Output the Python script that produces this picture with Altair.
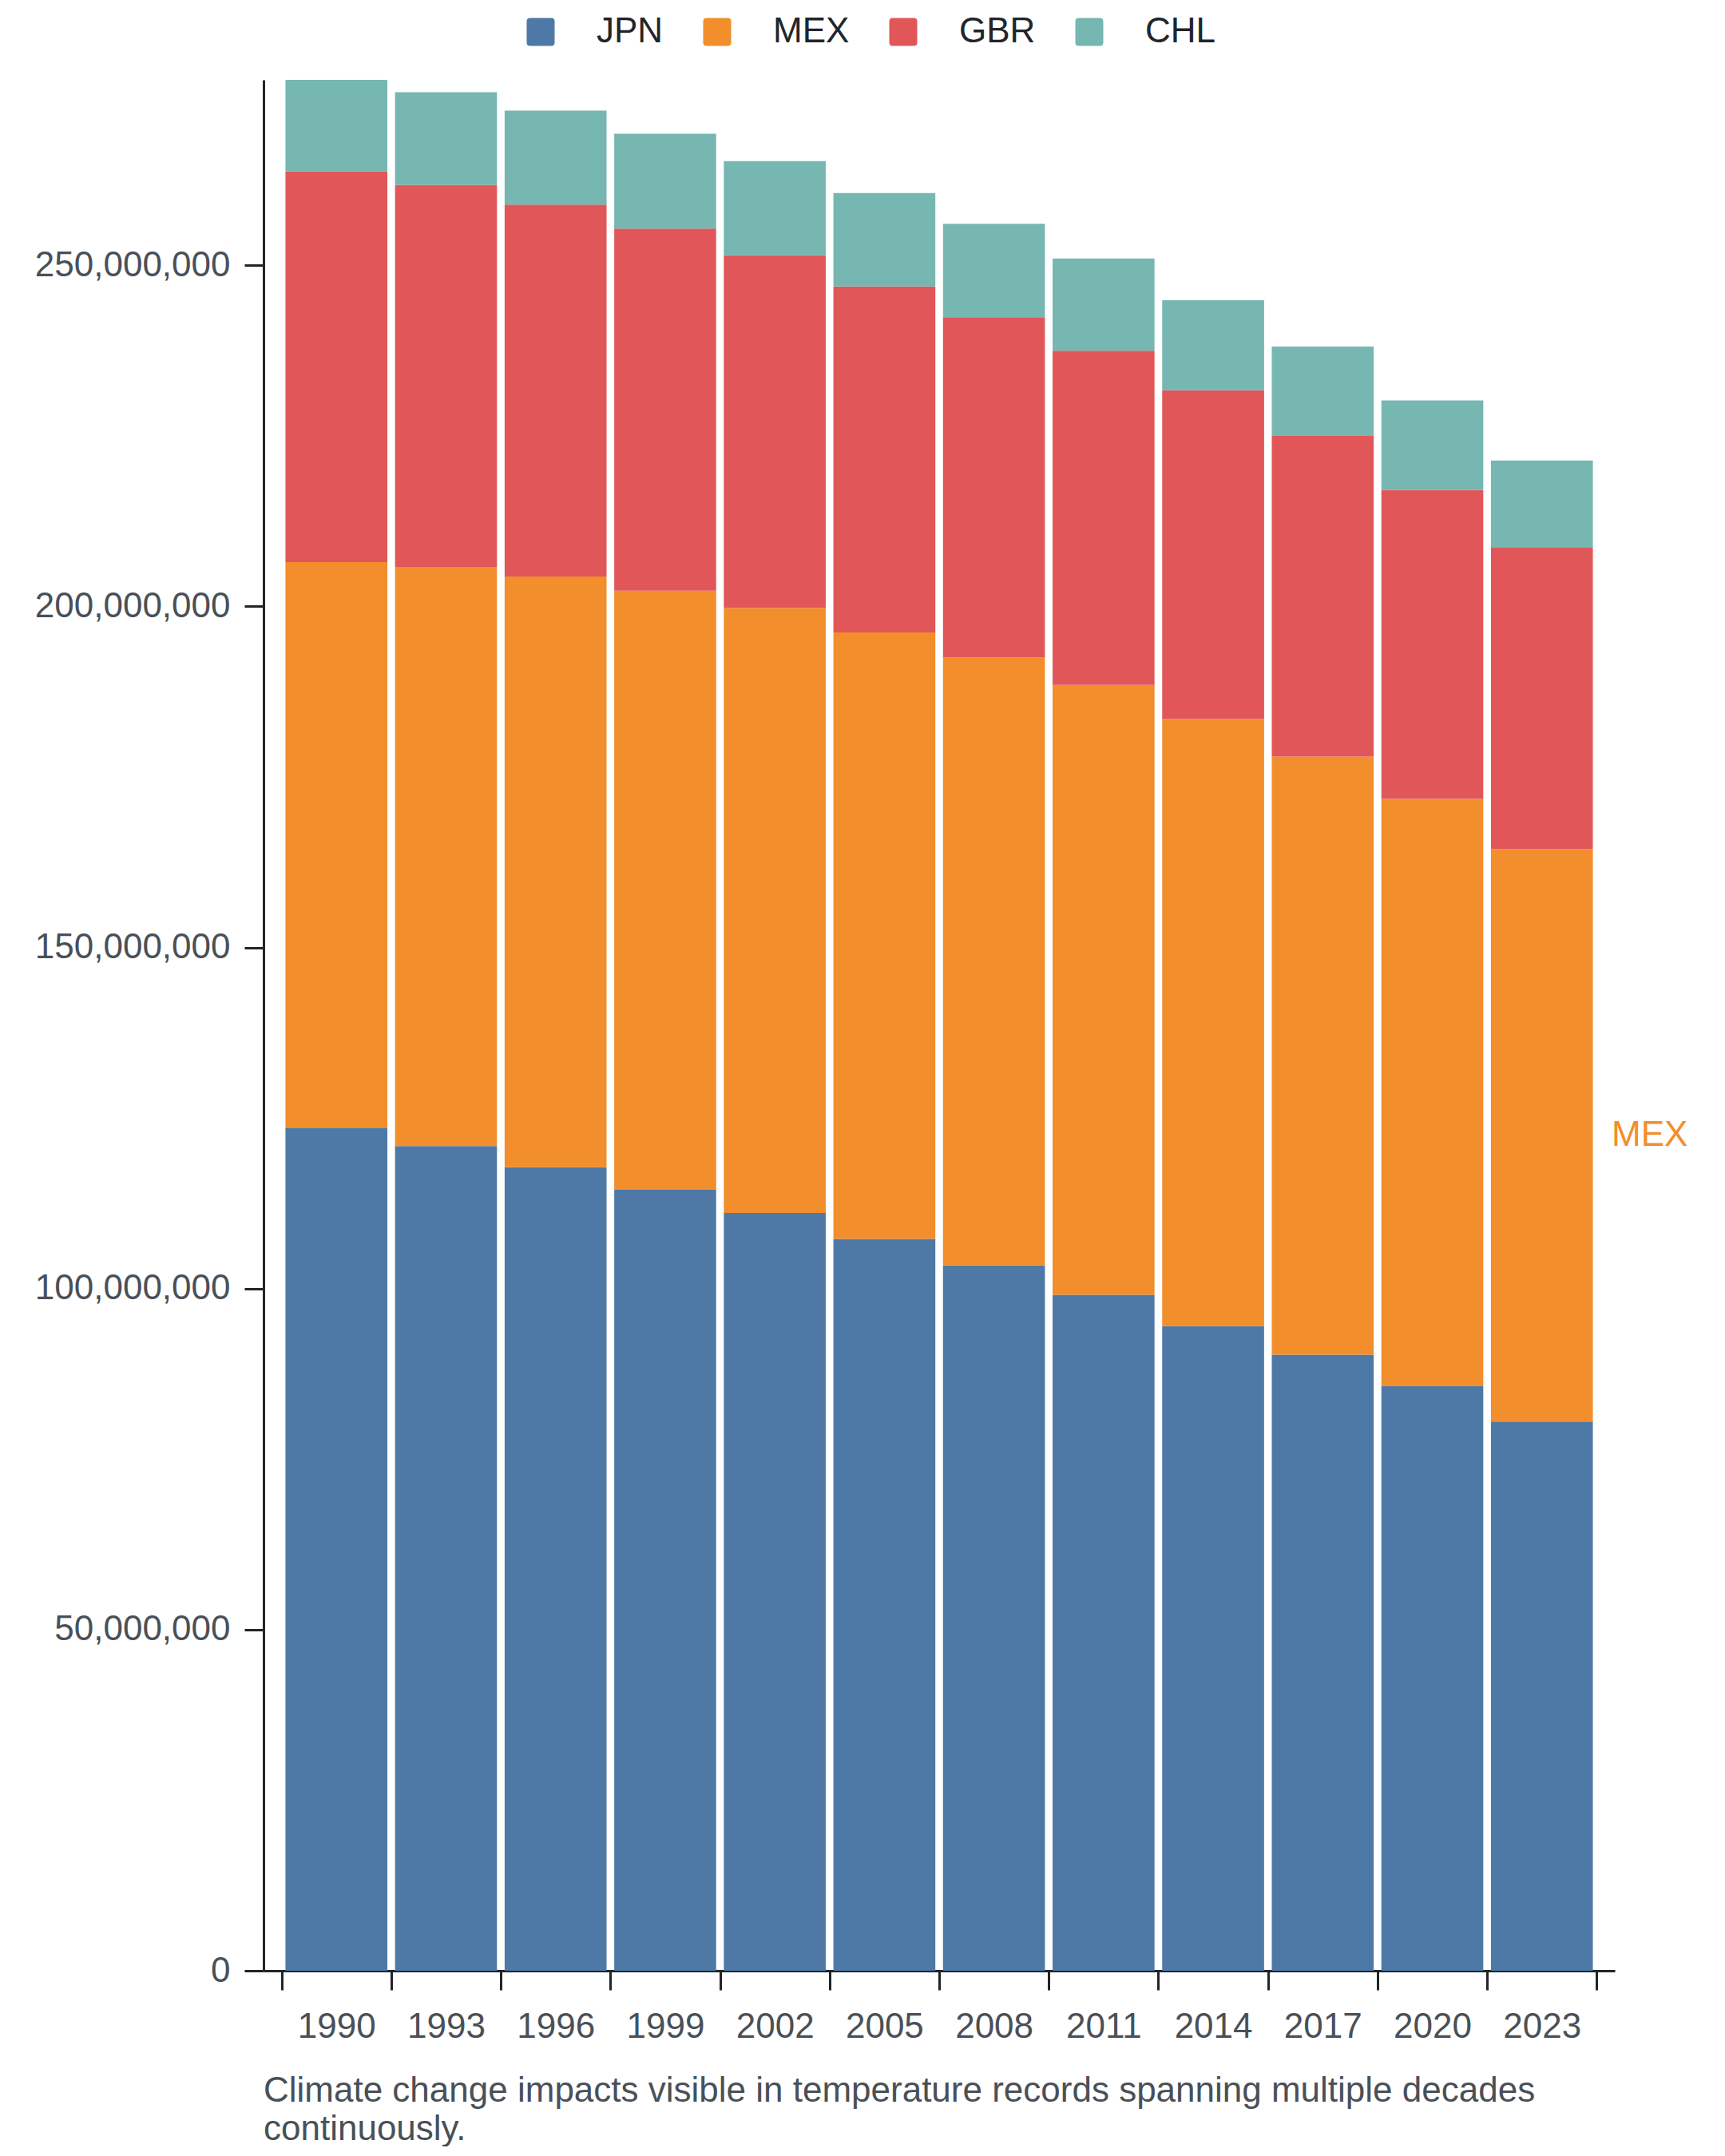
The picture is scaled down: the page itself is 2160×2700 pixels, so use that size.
import altair as alt
import pandas as pd

years = ["1990", "1993", "1996", "1999", "2002", "2005", "2008", "2011", "2014", "2017", "2020", "2023"]
countries = ["JPN", "MEX", "GBR", "CHL"]
colors = ["#4e79a7", "#f28e2b", "#e15759", "#76b7b2"]

jpn = [123.6e6, 120.9e6, 117.8e6, 114.5e6, 111.1e6, 107.3e6, 103.4e6, 99.1e6, 94.5e6, 90.3e6, 85.7e6, 80.5e6]
mex = [82.9e6, 84.9e6, 86.6e6, 87.8e6, 88.7e6, 88.9e6, 89.1e6, 89.4e6, 89.0e6, 87.7e6, 86.1e6, 83.9e6]
gbr = [57.3e6, 56.0e6, 54.5e6, 53.1e6, 51.7e6, 50.7e6, 49.9e6, 49.0e6, 48.2e6, 47.0e6, 45.3e6, 44.3e6]
chl = [13.4e6, 13.6e6, 13.8e6, 13.9e6, 13.8e6, 13.7e6, 13.7e6, 13.5e6, 13.2e6, 13.1e6, 13.1e6, 12.7e6]

y_ticks = [0, 50e6, 100e6, 150e6, 200e6, 250e6]
caption = ["Climate change impacts visible in temperature records spanning multiple decades",
           "continuously."]

series = {"JPN": jpn, "MEX": mex, "GBR": gbr, "CHL": chl}
rows = []
for k, c in enumerate(countries):
    for yr, v in zip(years, series[c]):
        rows.append({"year": yr, "country": c, "value": v, "k": k})
df = pd.DataFrame(rows)

label_df = pd.DataFrame([{"value": jpn[-1] + mex[-1] / 2, "label": "MEX"}])

W, H = 1692, 2368
FONT = "Liberation Sans"
DARK = "#212529"
GREY = "#495057"

rounded = "M-1,-0.75 Q-1,-1 -0.75,-1 L0.75,-1 Q1,-1 1,-0.75 L1,0.75 Q1,1 0.75,1 L-0.75,1 Q-1,1 -1,0.75 Z"

bars = alt.Chart(df).mark_bar(strokeWidth=0, width={"band": 0.93}).encode(
    x=alt.X("year:O", sort=years,
            scale=alt.Scale(paddingInner=0, paddingOuter=0.165),
            axis=alt.Axis(title=None, labelAngle=0, tickBand="extent",
                          tickSize=24, tickWidth=3, tickColor=DARK,
                          domainColor=DARK, domainWidth=3,
                          labelFontSize=44, labelColor=GREY, labelFont=FONT,
                          labelPadding=24)),
    y=alt.Y("value:Q", stack="zero",
            scale=alt.Scale(nice=False, zero=True),
            axis=alt.Axis(title=None, values=y_ticks, format=",d", grid=False,
                          tickSize=24, tickWidth=3, tickColor=DARK,
                          domainColor=DARK, domainWidth=3,
                          labelFontSize=44, labelColor=GREY, labelFont=FONT,
                          labelPadding=18, labelLimit=600)),
    color=alt.Color("country:N",
                    scale=alt.Scale(domain=countries, range=colors),
                    legend=alt.Legend(title=None, orient="none", direction="horizontal",
                                      legendX=325, legendY=-82, padding=0,
                                      symbolType=rounded, symbolSize=1225,
                                      symbolStrokeWidth=0, symbolOpacity=1,
                                      labelFontSize=44, labelColor=DARK, labelFont=FONT,
                                      labelOffset=48, columnPadding=45)),
    order=alt.Order("k:Q", sort="ascending"),
)

label = alt.Chart(label_df).mark_text(
    align="left", baseline="middle", dx=-4, fontSize=44, font=FONT, color="#f28e2b"
).encode(
    x=alt.value(W),
    y=alt.Y("value:Q"),
    text="label:N",
)

chart = alt.layer(bars, label).properties(
    width=W, height=H,
    view=alt.ViewBackground(stroke="transparent", strokeOpacity=0),
    title=alt.TitleParams(text=caption, orient="bottom", anchor="start", frame="group",
                          fontSize=44, font=FONT, fontWeight="normal", color=GREY,
                          lineHeight=48, offset=37),
    autosize=alt.AutoSizeParams(type="none"),
    padding={"left": 322, "top": 92, "right": 130, "bottom": 220},
).configure_view(stroke="transparent", strokeOpacity=0).configure(
    background="white",
    style={"cell": {"stroke": "transparent", "strokeOpacity": 0}},
)

chart.save("out.html", embed_options={"renderer": "svg", "actions": False})
